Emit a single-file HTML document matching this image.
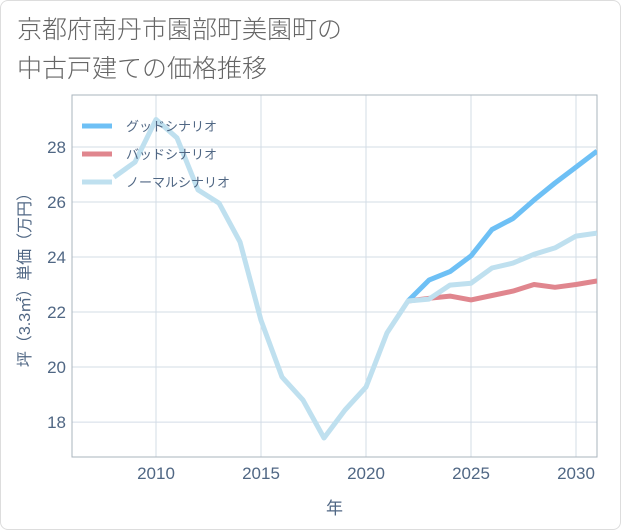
<!DOCTYPE html>
<html><head><meta charset="utf-8">
<style>
body{margin:0;background:#fff;font-family:"Liberation Sans","Noto Sans CJK JP",sans-serif;}
#card{position:absolute;left:0;top:0;width:619px;height:528px;border:1px solid #ddd;border-radius:8px;background:#fff;}
#title{position:absolute;left:17px;top:11px;font-size:25px;line-height:39px;color:#666;font-weight:300;}
</style></head><body>
<div id="card"></div>
<div id="title">京都府南丹市園部町美園町の<br>中古戸建ての価格推移</div>
<svg id="chart" width="621" height="530" style="position:absolute;left:0;top:0"></svg>
<script>
const years=[2008,2009,2010,2011,2012,2013,2014,2015,2016,2017,2018,2019,2020,2021,2022,2023,2024,2025,2026,2027,2028,2029,2030,2031];
const normalVals=[26.9,27.45,29.0,28.33,26.44,25.96,24.55,21.7,19.64,18.8,17.42,18.44,19.27,21.24,22.4,22.47,22.98,23.05,23.6,23.78,24.1,24.33,24.76,24.87];
const fcYears=[2022,2023,2024,2025,2026,2027,2028,2029,2030,2031];
const goodVals=[22.4,23.16,23.47,24.04,25.0,25.4,26.07,26.69,27.27,27.85];
const badVals=[22.4,22.5,22.58,22.44,22.6,22.76,23.0,22.9,23.0,23.13];
const xTicks=[2010,2015,2020,2025,2030];
const yTicks=[18,20,22,24,26,28];
const legendLabels=["グッドシナリオ","バッドシナリオ","ノーマルシナリオ"];
const colors=["#6ec0f5","#e0868e","#bfe0ef"];

const L=72,R=597,T=95,B=457,X0=2006,X1=2031,Y0=16.73,Y1=29.89;
const sx=v=>L+(v-X0)/(X1-X0)*(R-L);
const sy=v=>B-(v-Y0)/(Y1-Y0)*(B-T);
const svg=document.getElementById('chart');
const NS='http://www.w3.org/2000/svg';
function mk(tag,attrs,parent){const e=document.createElementNS(NS,tag);for(const k in attrs)e.setAttribute(k,attrs[k]);(parent||svg).appendChild(e);return e;}

xTicks.forEach(t=>{
  const g=mk('line',{x1:sx(t),x2:sx(t),y1:T,y2:B,stroke:'#d3dce6','stroke-width':1});
  
  
  const tx=mk('text',{x:sx(t),y:479,'text-anchor':'middle','font-size':17,fill:'#506784'});
  tx.textContent=t;
  
  
});
yTicks.forEach(t=>{
  const g=mk('line',{x1:L,x2:R,y1:sy(t),y2:sy(t),stroke:'#d3dce6','stroke-width':1});
  
  
  const tx=mk('text',{x:66,y:sy(t)+6,'text-anchor':'end','font-size':17,fill:'#506784'});
  tx.textContent=t;
  
  
});
const frame=mk('rect',{x:L,y:T,width:R-L,height:B-T,fill:'none',stroke:'#aab4be','stroke-width':1});



const clip=mk('clipPath',{id:'pc'});mk('rect',{x:L,y:T,width:R-L,height:B-T},clip);
function series(xs,ys,color,name){
  const d=xs.map((x,i)=>(i?'L':'M')+sx(x).toFixed(1)+','+sy(ys[i]).toFixed(1)).join(' ');
  const p=mk('path',{d:d,fill:'none',stroke:color,'stroke-width':5,'stroke-linejoin':'round','clip-path':'url(#pc)'});
  
  
}
series(fcYears,badVals,colors[1],'bad-scenario-line');
series(fcYears,goodVals,colors[0],'good-scenario-line');
series(years,normalVals,colors[2],'normal-scenario-line');

legendLabels.forEach((lab,i)=>{
  const y=126+i*28;
  const l=mk('line',{x1:82,x2:112,y1:y,y2:y,stroke:colors[i],'stroke-width':5});
  
  
  const t=mk('text',{x:126,y:y+5,'font-size':13,fill:'#506784'});
  t.textContent=lab;
  
  
});
const xt=mk('text',{x:(L+R)/2,y:514,'text-anchor':'middle','font-size':17,fill:'#506784'});
xt.textContent='年';


const yt=mk('text',{x:0,y:0,'text-anchor':'middle','font-size':16,fill:'#506784',transform:'translate(30,'+((T+B)/2)+') rotate(-90)'});
yt.textContent='坪（3.3㎡）単価（万円）';


</script>
</body></html>
